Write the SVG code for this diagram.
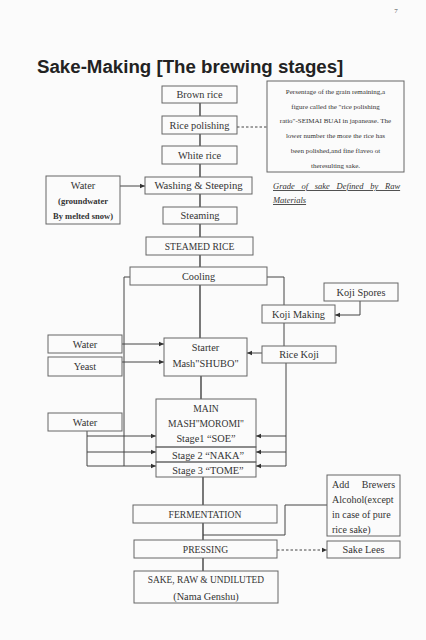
<svg xmlns="http://www.w3.org/2000/svg" width="426" height="640" viewBox="0 0 426 640">
<defs>
<marker id="ah" markerWidth="6" markerHeight="6" refX="5" refY="3" orient="auto" markerUnits="userSpaceOnUse"><path d="M0,0.8 L5,3 L0,5.2 Z" fill="#333"/></marker>
<style>
.bx{fill:none;stroke:#666;stroke-width:1}
.t{font-family:"Liberation Serif","Times New Roman",serif;font-size:10.3px;fill:#333;text-anchor:middle}
.c{font-size:9.6px}
.n{font-family:"Liberation Serif","Times New Roman",serif;font-size:7px;fill:#333;text-anchor:middle}
.g{font-family:"Liberation Serif","Times New Roman",serif;font-size:8.5px;font-style:italic;fill:#333;text-decoration:underline}
.ln{fill:none;stroke:#444;stroke-width:1}
.ml{fill:none;stroke:#333;stroke-width:1.3}
.ds{fill:none;stroke:#444;stroke-width:1;stroke-dasharray:2.5,2}
</style>
</defs>
<rect width="426" height="640" fill="#fbfbfb"/>
<text x="396" y="13" font-family="Liberation Serif, serif" font-size="7" fill="#555" text-anchor="middle">7</text>
<text x="37" y="73" font-family="Liberation Sans, Arial, sans-serif" font-size="18.7" font-weight="bold" fill="#222">Sake-Making [The brewing stages]</text>

<g id="connectors">
<path class="ml" d="M200,103V116M200,134V146M200,164V177M200,194V207M200,224V237M200,255V267M200,285V338M201,376V399M203,477V505M203,523V540M203,558V571"/>
<path class="ds" d="M237,127H267"/>
<path class="ln" d="M120,186H145" marker-end="url(#ah)"/>
<path class="ln" d="M130,277H124V466"/>
<path class="ln" d="M267,277H284V305"/>
<path class="ln" d="M360,301V315H335" marker-end="url(#ah)"/>
<path class="ln" d="M284,323V346"/>
<path class="ln" d="M122,344H164" marker-end="url(#ah)"/>
<path class="ln" d="M122,362H164" marker-end="url(#ah)"/>
<path class="ln" d="M262,353H247" marker-end="url(#ah)"/>
<path class="ln" d="M286,363V466"/>
<path class="ln" d="M286,436H256" marker-end="url(#ah)"/>
<path class="ln" d="M286,452H256" marker-end="url(#ah)"/>
<path class="ln" d="M286,466H256" marker-end="url(#ah)"/>
<path class="ln" d="M87,431V466"/>
<path class="ln" d="M87,436H156" marker-end="url(#ah)"/>
<path class="ln" d="M87,452H156" marker-end="url(#ah)"/>
<path class="ln" d="M87,466H156" marker-end="url(#ah)"/>
<path class="ln" d="M327,505H285V535H203"/>
<path class="ds" d="M277,550H327" marker-end="url(#ah)"/>
</g>

<g id="brown-rice"><rect class="bx" x="162" y="86" width="75" height="17"/><text class="t" x="199.5" y="98">Brown rice</text></g>
<g id="rice-polishing"><rect class="bx" x="162" y="116" width="75" height="18"/><text class="t" x="199.5" y="128.5">Rice polishing</text></g>
<g id="white-rice"><rect class="bx" x="162" y="146" width="75" height="18"/><text class="t" x="199.5" y="158.5">White rice</text></g>
<g id="note"><rect class="bx" x="267" y="81" width="137" height="91"/>
<text class="n" x="335.5" y="93.5">Persentage of the grain remaining,a</text>
<text class="n" x="335.5" y="108.5">figure called the "rice polishing</text>
<text class="n" x="335.5" y="123">ratio"-SEIMAI BUAI in japanease. The</text>
<text class="n" x="335.5" y="138">lower number the more the rice has</text>
<text class="n" x="335.5" y="153">been polished,and fine flaveo ot</text>
<text class="n" x="335.5" y="168">theresulting sake.</text>
</g>
<g id="grade"><text class="g" x="273" y="189" word-spacing="4.6">Grade of sake Defined by Raw</text>
<text class="g" x="273" y="203">Materials</text></g>
<g id="water1"><rect class="bx" x="46" y="176" width="74" height="48"/><text class="t" x="83" y="189">Water</text>
<text class="t" x="83" y="203.5" font-weight="bold" style="font-size:8.5px">(groundwater</text>
<text class="t" x="83" y="218.5" font-weight="bold" style="font-size:8.5px">By melted snow)</text></g>
<g id="washing"><rect class="bx" x="145" y="177" width="107" height="17"/><text class="t" x="198.5" y="189" style="font-size:10.7px">Washing &amp; Steeping</text></g>
<g id="steaming"><rect class="bx" x="163" y="207" width="74" height="17"/><text class="t" x="200" y="219">Steaming</text></g>
<g id="steamed-rice"><rect class="bx" x="146" y="237" width="107" height="18"/><text class="t c" x="199.5" y="249.5">STEAMED RICE</text></g>
<g id="cooling"><rect class="bx" x="130" y="267" width="137" height="18"/><text class="t" x="198.5" y="279.5">Cooling</text></g>
<g id="koji-spores"><rect class="bx" x="324" y="283" width="74" height="18"/><text class="t" x="361" y="295.5">Koji Spores</text></g>
<g id="koji-making"><rect class="bx" x="262" y="305" width="73" height="18"/><text class="t" x="298.5" y="317.5">Koji Making</text></g>
<g id="water2"><rect class="bx" x="48" y="335" width="74" height="18"/><text class="t" x="85" y="347.5">Water</text></g>
<g id="yeast"><rect class="bx" x="48" y="357" width="74" height="19"/><text class="t" x="85" y="370">Yeast</text></g>
<g id="starter"><rect class="bx" x="164" y="338" width="83" height="38"/><text class="t" x="205.5" y="351">Starter</text><text class="t" x="205.5" y="366.5">Mash"SHUBO"</text></g>
<g id="rice-koji"><rect class="bx" x="262" y="346" width="74" height="17"/><text class="t" x="299" y="358">Rice Koji</text></g>
<g id="water3"><rect class="bx" x="48" y="413" width="74" height="18"/><text class="t" x="85" y="425.5">Water</text></g>
<g id="main-mash"><rect class="bx" x="156" y="399" width="100" height="48"/>
<text class="t c" x="206" y="411.5">MAIN</text>
<text class="t c" x="206" y="426.5">MASH"MOROMI"</text>
<text class="t" x="206" y="442">Stage1 “SOE”</text></g>
<g id="stage2"><rect class="bx" x="156" y="447" width="100" height="15"/><text class="t" x="208" y="458.5">Stage 2 “NAKA”</text></g>
<g id="stage3"><rect class="bx" x="156" y="462" width="100" height="15"/><text class="t" x="208" y="473.5">Stage 3 “TOME”</text></g>
<g id="fermentation"><rect class="bx" x="133" y="505" width="144" height="18"/><text class="t c" x="205" y="517.5">FERMENTATION</text></g>
<g id="add-alcohol"><rect class="bx" x="327" y="475" width="73" height="61"/>
<text class="t" x="332" y="487.5" style="text-anchor:start;font-size:10px" word-spacing="10">Add Brewers</text>
<text class="t" x="332" y="502.5" style="text-anchor:start;font-size:10px">Alcohol(except</text>
<text class="t" x="332" y="517.5" style="text-anchor:start;font-size:10px">in case of pure</text>
<text class="t" x="332" y="533" style="text-anchor:start;font-size:10px">rice sake)</text></g>
<g id="pressing"><rect class="bx" x="134" y="540" width="143" height="18"/><text class="t c" x="205.5" y="552.5">PRESSING</text></g>
<g id="sake-lees"><rect class="bx" x="327" y="541" width="73" height="17"/><text class="t" x="363.5" y="553">Sake Lees</text></g>
<g id="sake-final"><rect class="bx" x="134" y="571" width="144" height="32"/>
<text class="t" x="206" y="583" style="font-size:9.4px">SAKE, RAW &amp; UNDILUTED</text>
<text class="t" x="206" y="599.5">(Nama Genshu)</text></g>
</svg>
